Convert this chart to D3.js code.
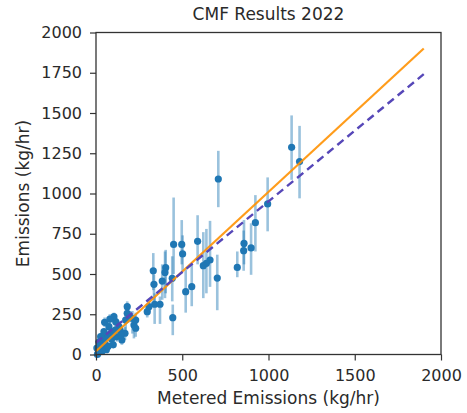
<!DOCTYPE html>
<html>
<head>
<meta charset="utf-8">
<script src="https://cdn.jsdelivr.net/npm/d3@7"></script>
<style>
  html, body { margin: 0; padding: 0; background: #fff; }
  svg { display: block; font-family: "DejaVu Sans", sans-serif; }
</style>
</head>
<body>
<div id="chart"></div>
<script>
// Metered release rate (x) vs. estimated emissions (y), kg/hr
const metered = [1134, 1180, 709, 995, 924, 899, 858, 856, 819, 703,
                 661, 640, 622, 589, 502, 497, 450, 555, 520, 445,
                 442, 404, 400, 384, 332, 336, 340, 371,
                 297, 307, 181, 181, 172, 211, 220, 230, 230, 195,
                 168, 133, 114, 104, 75, 85, 66, 46, 46, 37,
                 27, 12, 8, 17, 27, 55, 90, 120, 60, 100, 150, 140, 5, 35,
                 70, 110, 50, 145, 20, 80];
const estimated = [1287, 1198, 1090, 935, 819, 662, 690, 645, 541, 475,
                   587, 566, 552, 703, 625, 684, 684, 421, 390, 229,
                   473, 539, 510, 456, 520, 436, 312, 312,
                   266, 297, 297, 256, 214, 225, 183, 163, 214, 235,
                   132, 173, 204, 235, 173, 132, 111, 142, 90, 59,
                   28, 7, 0, 77, 111, 60, 95, 110, 30, 60, 90, 150, 40, 20,
                   50, 150, 200, 120, 55, 220];
const lowerBound = [1085, 970, 915, 765, 640, 495, 560, 520, 480, 275,
                    420, 380, 350, 560, 520, 560, 500, 300, 260, 120,
                    330, 380, 350, 340, 400, 320, 190, 190,
                    230, 250, 260, 220, 150, 130, 100, 110, 170, 200,
                    90, 130, 170, 200, 150, 110, 90, 120, 70, 40,
                    10, 0, 0, 60, 90, 40, 70, 80, 15, 40, 60, 110, 25, 5,
                    30, 120, 170, 90, 35, 190];
const upperBound = [1485, 1420, 1265, 1100, 990, 815, 835, 770, 640, 620,
                    830, 780, 760, 865, 740, 835, 975, 560, 530, 310,
                    610, 650, 640, 560, 630, 495, 380, 360,
                    300, 330, 330, 290, 260, 270, 230, 210, 260, 270,
                    170, 210, 240, 260, 200, 160, 130, 160, 110, 80,
                    50, 20, 10, 95, 130, 80, 120, 140, 50, 90, 120, 190, 55, 35,
                    75, 180, 230, 150, 75, 250];

// Fit lines (drawn over 0..1900 kg/hr)
const lineRange = [0, 1900];
const parityFit = { intercept: 20, slope: 0.99 };
const dashedFit = { intercept: 73, slope: 0.878 };

const xTicks = [0, 500, 1000, 1500, 2000];
const yTicks = [0, 250, 500, 750, 1000, 1250, 1500, 1750, 2000];

const width = 467, height = 413;
const margin = { top: 32.5, right: 26, bottom: 58.5, left: 96 };

const svg = d3.select('#chart').append('svg')
    .attr('width', width)
    .attr('height', height);

const x = d3.scaleLinear().domain([0, 2000]).range([margin.left, width - margin.right]);
const y = d3.scaleLinear().domain([0, 2000]).range([height - margin.bottom, margin.top]);

const data = metered.map((m, i) => ({
    m, e: estimated[i], lo: lowerBound[i], hi: upperBound[i]
}));

const plot = svg.append('g');

// Error bars
plot.selectAll('.err')
    .data(data)
    .join('line')
        .attr('class', 'err')
        .attr('x1', d => x(d.m)).attr('x2', d => x(d.m))
        .attr('y1', d => y(d.lo)).attr('y2', d => y(d.hi))
        .attr('stroke', '#1f77b4')
        .attr('stroke-opacity', 0.45)
        .attr('stroke-width', 2.6);

// Points
plot.selectAll('.pt')
    .data(data)
    .join('circle')
        .attr('class', 'pt')
        .attr('cx', d => x(d.m))
        .attr('cy', d => y(d.e))
        .attr('r', 3.6)
        .attr('fill', '#1f77b4');

// Fit lines
const fitLine = f => lineRange.map(v => [x(v), y(f.intercept + f.slope * v)]);

plot.append('path')
    .attr('d', d3.line()(fitLine(parityFit)))
    .attr('fill', 'none')
    .attr('stroke', '#ff9408')
    .attr('stroke-opacity', 0.92)
    .attr('stroke-width', 2.2);

plot.append('path')
    .attr('d', d3.line()(fitLine(dashedFit)))
    .attr('fill', 'none')
    .attr('stroke', '#5647b8')
    .attr('stroke-width', 2.4)
    .attr('stroke-dasharray', '8 5');

// Axes
const styleAxis = ax => {
    ax.select('.domain').remove();
    ax.selectAll('line').attr('stroke', '#333').attr('stroke-width', 1.2);
    ax.selectAll('text').attr('fill', '#2a2a2a').attr('font-size', '16px')
        .attr('font-family', '"DejaVu Sans", sans-serif');
};

svg.append('g')
    .attr('transform', `translate(0,${height - margin.bottom})`)
    .call(d3.axisBottom(x).tickValues(xTicks).tickSize(6).tickPadding(9).tickFormat(d3.format('d')))
    .call(styleAxis);

svg.append('g')
    .attr('transform', `translate(${margin.left},0)`)
    .call(d3.axisLeft(y).tickValues(yTicks).tickSize(6).tickPadding(8).tickFormat(d3.format('d')))
    .call(styleAxis);

// Frame
svg.append('rect')
    .attr('x', margin.left).attr('y', margin.top)
    .attr('width', width - margin.left - margin.right)
    .attr('height', height - margin.top - margin.bottom)
    .attr('fill', 'none')
    .attr('stroke', '#333')
    .attr('stroke-width', 1.3);

// Titles
svg.append('text')
    .attr('x', (x(0) + x(2000)) / 2)
    .attr('y', 20)
    .attr('text-anchor', 'middle')
    .attr('fill', '#2a2a2a')
    .attr('font-size', '17px')
    .text('CMF Results 2022');

svg.append('text')
    .attr('x', (x(0) + x(2000)) / 2)
    .attr('y', 404)
    .attr('text-anchor', 'middle')
    .attr('fill', '#2a2a2a')
    .attr('font-size', '17px')
    .text('Metered Emissions (kg/hr)');

svg.append('text')
    .attr('transform', `translate(29,${(y(0) + y(2000)) / 2}) rotate(-90)`)
    .attr('text-anchor', 'middle')
    .attr('fill', '#2a2a2a')
    .attr('font-size', '17px')
    .text('Emissions (kg/hr)');
</script>
</body>
</html>
